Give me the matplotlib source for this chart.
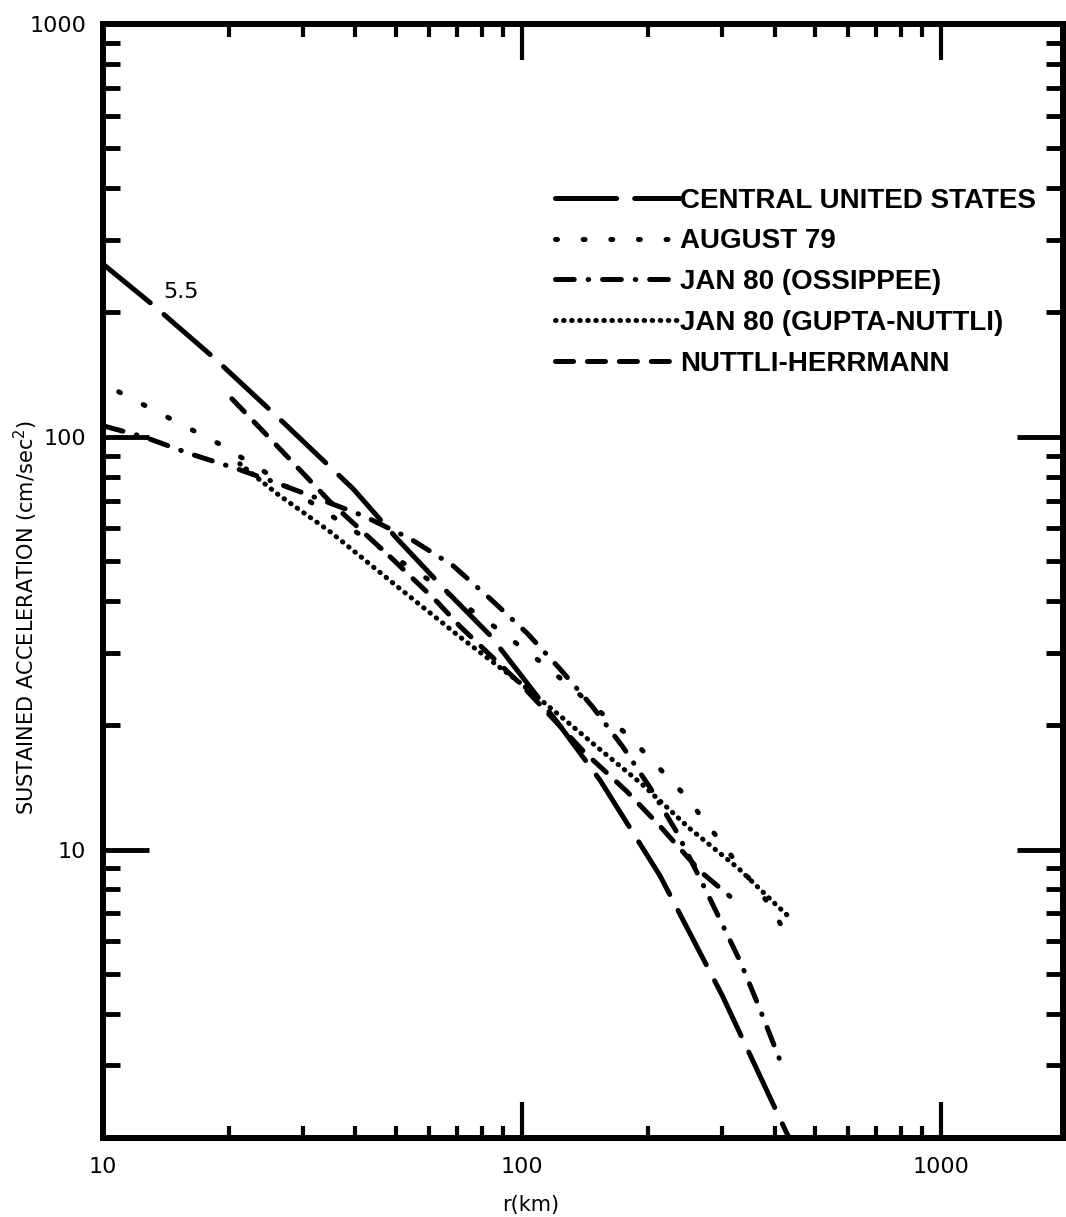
import matplotlib
matplotlib.use("Agg")
import matplotlib.pyplot as plt
from matplotlib import font_manager
from matplotlib.ticker import LogLocator, NullFormatter, FixedLocator, FixedFormatter

# Distance r (km) and sustained acceleration (cm/sec^2) along each curve
central_r = [10, 13.2, 18.5, 26, 39.5, 50.3, 66.2, 83.9, 121, 153.5, 213, 300, 431]
central_a = [262, 208, 154.5, 112, 74.8, 56.6, 42.1, 33.0, 20.4, 14.7, 8.65, 4.43, 2.02]

aug79_r = [10.9, 14.5, 18.9, 24.1, 36.8, 60.3, 87.1, 112, 179, 245, 322, 391, 420]
aug79_a = [128.5, 110.5, 96.2, 82.7, 62.3, 44.8, 34.3, 28.2, 18.9, 13.5, 9.4, 7.3, 6.4]

ossipee_r = [10.1, 12.5, 16.1, 20.9, 25.5, 31.7, 41.7, 54.1, 68.4, 83.9, 102.8,
             123, 147, 174, 202, 234, 278, 331, 366, 415]
ossipee_a = [106, 100, 91, 83.6, 77.8, 71.6, 64.4, 56.6, 48.7, 40.5, 33.4,
             27.4, 22.2, 17.7, 14.1, 11.0, 7.74, 5.36, 4.19, 3.03]

gupta_r = [21.2, 26, 34.8, 48.4, 70.3, 99, 123, 152, 193, 252, 328, 406, 431]
gupta_a = [86, 72.8, 58.9, 44.8, 33.0, 25.3, 21.1, 17.6, 14.4, 11.2, 9.0, 7.3, 6.9]

nh_r = [20.3, 26, 34.8, 48.9, 62.7, 71.1, 99, 140, 178, 213, 266, 313]
nh_a = [123.6, 95.1, 69.6, 50.7, 39.8, 34.7, 25.2, 17.3, 13.8, 11.4, 8.85, 7.7]

labels = ["CENTRAL UNITED STATES", "AUGUST 79", "JAN 80 (OSSIPPEE)",
          "JAN 80 (GUPTA-NUTTLI)", "NUTTLI-HERRMANN"]

x_ticks = [10, 100, 1000]
x_ticklabels = ["10", "100", "1000"]
y_ticks = [10, 100, 1000]
y_ticklabels = ["10", "100", "1000"]

available = {f.name for f in font_manager.fontManager.ttflist}
tick_font = "Liberation Sans Narrow" if "Liberation Sans Narrow" in available else "DejaVu Sans"

plt.rcParams["lines.scale_dashes"] = False

fig = plt.figure(figsize=(10.66, 12.17), dpi=100)
ax = fig.add_axes([103 / 1066, 79 / 1217, 960 / 1066, 1114 / 1217])
ax.set_xscale("log")
ax.set_yscale("log")
ax.set_xlim(10, 1950)
ax.set_ylim(2, 1000)

lw = 3.6
style = dict(color="black", lw=lw, dash_capstyle="round", solid_capstyle="round")
ax.plot(central_r, central_a, dashes=(44, 13), label=labels[0], **style)
ax.plot(aug79_r, aug79_a, dashes=(1.4, 18.5), label=labels[1], **style)
ax.plot(ossipee_r, ossipee_a, dashes=(13.5, 10, 0.4, 10), label=labels[2], **style)
ax.plot(gupta_r, gupta_a, dashes=(0.4, 5.4), label=labels[3], **style)
ax.plot(nh_r, nh_a, dashes=(13, 10), label=labels[4], **style)

ax.text(13.9, 212, "5.5", fontsize=16, family="DejaVu Sans", ha="left", va="bottom")

leg = ax.legend(loc="upper left", bbox_to_anchor=(0.471, 0.853), frameon=False,
                borderaxespad=0, borderpad=0, handlelength=4.5, handletextpad=0.0,
                labelspacing=0.53,
                prop=dict(family="Liberation Sans", weight="bold", size=20))

for s in ax.spines.values():
    s.set_linewidth(4.3)

ax.xaxis.set_major_locator(FixedLocator(x_ticks))
ax.xaxis.set_major_formatter(FixedFormatter(x_ticklabels))
ax.yaxis.set_major_locator(FixedLocator(y_ticks))
ax.yaxis.set_major_formatter(FixedFormatter(y_ticklabels))
ax.xaxis.set_minor_locator(LogLocator(base=10, subs=range(2, 10), numticks=20))
ax.yaxis.set_minor_locator(LogLocator(base=10, subs=range(2, 10), numticks=20))
ax.xaxis.set_minor_formatter(NullFormatter())
ax.yaxis.set_minor_formatter(NullFormatter())

ax.tick_params(axis="x", which="major", direction="in", length=26, width=3,
               top=True, bottom=True, pad=14, labelsize=16)
ax.tick_params(axis="x", which="minor", direction="in", length=9, width=3,
               top=True, bottom=True)
ax.tick_params(axis="y", which="major", direction="in", length=33, width=3.5,
               left=True, right=True, pad=12, labelsize=16)
ax.tick_params(axis="y", which="minor", direction="in", length=12, width=3.5,
               left=True, right=True)
for t in ax.get_xticklabels() + ax.get_yticklabels():
    t.set_family(tick_font)

ax.set_xlabel("r(km)", fontsize=15, family="DejaVu Sans")
ax.xaxis.set_label_coords(0.445, -0.051)
ax.set_ylabel("SUSTAINED ACCELERATION (cm/sec$^2$)", fontsize=15,
              family="DejaVu Sans")
ax.yaxis.set_label_coords(-0.066, 0.467)

fig.savefig("out.png", dpi=100)
